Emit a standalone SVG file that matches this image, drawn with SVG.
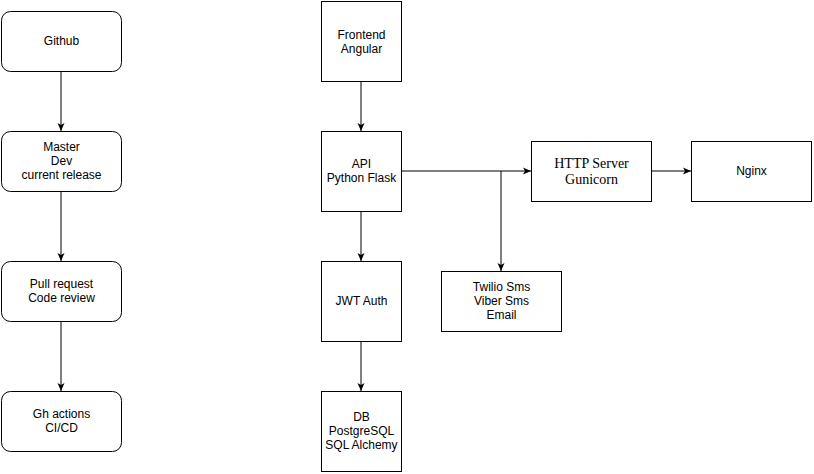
<svg xmlns="http://www.w3.org/2000/svg" width="814" height="474" viewBox="0 0 814 474">
<style>
.n{fill:#fff;stroke:#000;stroke-width:1}
.t{font-family:"Liberation Sans",Arial,Helvetica,sans-serif;font-size:12px;fill:#000;text-anchor:middle}
.s{font-family:"Liberation Serif","Times New Roman",serif;font-size:14px;fill:#000;text-anchor:middle}
.e{fill:none;stroke:#000;stroke-width:1}
</style>
<defs>
<marker id="a" markerWidth="8" markerHeight="8" viewBox="0 0 8 8" refX="8" refY="4" orient="auto" markerUnits="userSpaceOnUse">
<path d="M0,0.5 L8,4 L0,7.5 L2,4 Z" fill="#000"/>
</marker>
</defs>
<rect width="814" height="474" fill="#fff"/>
<g id="connectors">
<path class="e" d="M61,71 V131" marker-end="url(#a)"/>
<path class="e" d="M61,191 V261" marker-end="url(#a)"/>
<path class="e" d="M61,321 V391" marker-end="url(#a)"/>
<path class="e" d="M361,81 V131" marker-end="url(#a)"/>
<path class="e" d="M361,211 V261" marker-end="url(#a)"/>
<path class="e" d="M361,341 V391" marker-end="url(#a)"/>
<path class="e" d="M401,171 H531" marker-end="url(#a)"/>
<path class="e" d="M501,171 V271" marker-end="url(#a)"/>
<path class="e" d="M651,171 H691" marker-end="url(#a)"/>
</g>
<g id="github"><rect class="n" x="1.5" y="11.5" width="120" height="60" rx="9"/><text class="t" x="61.5" y="45">Github</text></g>
<g id="master"><rect class="n" x="1.5" y="131.5" width="120" height="60" rx="9"/><text class="t" x="61.5" y="151">Master</text><text class="t" x="61.5" y="165">Dev</text><text class="t" x="61.5" y="179">current release</text></g>
<g id="pull"><rect class="n" x="1.5" y="261.5" width="120" height="60" rx="9"/><text class="t" x="61.5" y="288">Pull request</text><text class="t" x="61.5" y="302">Code review</text></g>
<g id="ghactions"><rect class="n" x="1.5" y="391.5" width="120" height="60" rx="9"/><text class="t" x="61.5" y="418">Gh actions</text><text class="t" x="61.5" y="432">CI/CD</text></g>
<g id="frontend"><rect class="n" x="321.5" y="1.5" width="80" height="80"/><text class="t" x="361.5" y="39">Frontend</text><text class="t" x="361.5" y="53">Angular</text></g>
<g id="api"><rect class="n" x="321.5" y="131.5" width="80" height="80"/><text class="t" x="361.5" y="168">API</text><text class="t" x="361.5" y="182">Python Flask</text></g>
<g id="jwt"><rect class="n" x="321.5" y="261.5" width="80" height="80"/><text class="t" x="361.5" y="305">JWT Auth</text></g>
<g id="db"><rect class="n" x="321.5" y="391.5" width="80" height="80"/><text class="t" x="361.5" y="421">DB</text><text class="t" x="361.5" y="435">PostgreSQL</text><text class="t" x="361.5" y="449">SQL Alchemy</text></g>
<g id="http"><rect class="n" x="531.5" y="141.5" width="120" height="60"/><text class="s" x="591.5" y="168">HTTP Server</text><text class="s" x="591.5" y="184">Gunicorn</text></g>
<g id="nginx"><rect class="n" x="691.5" y="141.5" width="120" height="60"/><text class="t" x="751.5" y="175">Nginx</text></g>
<g id="notify"><rect class="n" x="441.5" y="271.5" width="120" height="60"/><text class="t" x="501.5" y="291">Twilio Sms</text><text class="t" x="501.5" y="305">Viber Sms</text><text class="t" x="501.5" y="319">Email</text></g>
</svg>
